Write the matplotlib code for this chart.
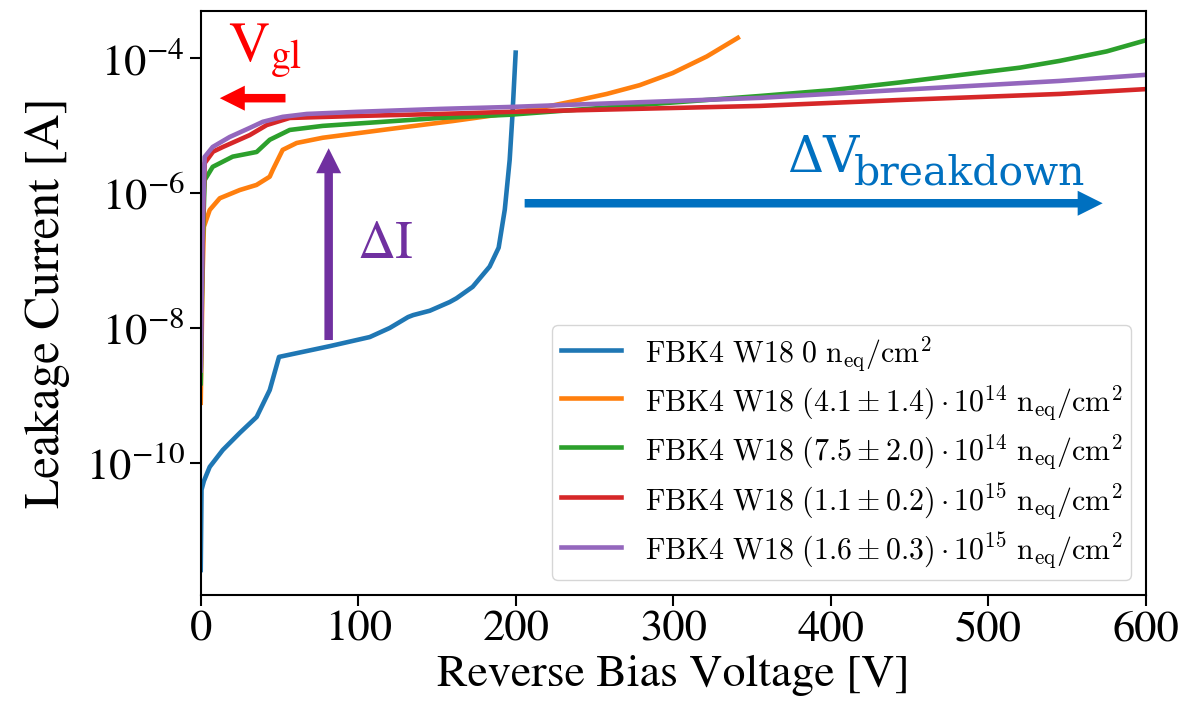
import matplotlib
matplotlib.use("Agg")
import matplotlib.pyplot as plt
from matplotlib.font_manager import FontProperties

# IV curves of FBK4 W18 sensors at different fluences
voltage_0 = [0, 0.5, 2, 5.7, 14.0, 24.8, 35.5, 43.8, 49.7, 81.9, 107.3, 120, 131.6,
             134.8, 145.4, 158, 162.3, 172.6, 183.4, 189.1, 193, 196.1, 197.8, 199.9]
current_0 = [2.57e-12, 3.98e-11, 5.37e-11, 8.7e-11, 1.55e-10, 2.78e-10, 4.79e-10, 1.20e-9,
             3.72e-9, 5.37e-9, 7.33e-9, 1.0e-8, 1.45e-8, 1.55e-8, 1.80e-8, 2.42e-8, 2.75e-8,
             4.07e-8, 8.13e-8, 1.55e-7, 5.69e-7, 3.10e-6, 1.36e-5, 1.21e-4]

voltage_41e14 = [0, 1.2, 2.0, 5.7, 12.1, 24.8, 35.4, 43.8, 45.7, 52, 60.9, 77.4, 120, 160,
                 200, 215.2, 236.1, 257.7, 278.6, 299.6, 321.2, 340.9]
current_41e14 = [7.76e-10, 6.3e-8, 3.16e-7, 5.62e-7, 8.38e-7, 1.11e-6, 1.32e-6, 1.75e-6,
                 2.20e-6, 4.37e-6, 5.53e-6, 6.61e-6, 8.91e-6, 1.17e-5, 1.58e-5, 1.82e-5,
                 2.29e-5, 2.95e-5, 3.98e-5, 6.03e-5, 1.06e-4, 2.0e-4]

voltage_75e14 = [0, 1.2, 2.5, 7.6, 20.3, 35.5, 43.8, 56.5, 77.4, 151.7, 196, 354.8, 400,
                 443.7, 481.6, 520, 545.2, 575, 599.1]
current_75e14 = [1.51e-9, 1.58e-7, 1.56e-6, 2.45e-6, 3.47e-6, 4.07e-6, 6.17e-6, 8.63e-6,
                 9.91e-6, 1.30e-5, 1.45e-5, 2.75e-5, 3.35e-5, 4.37e-5, 5.62e-5, 7.24e-5,
                 9.12e-5, 1.26e-4, 1.82e-4]

voltage_11e15 = [0, 1.2, 2.5, 7.8, 14, 31.1, 41.9, 56.5, 99, 151.7, 196, 354.8, 443.7, 545.2, 599.1]
current_11e15 = [2.51e-9, 2.51e-7, 2.78e-6, 4.11e-6, 4.82e-6, 7.24e-6, 1.02e-5, 1.30e-5,
                 1.39e-5, 1.49e-5, 1.60e-5, 1.96e-5, 2.40e-5, 2.95e-5, 3.47e-5]

voltage_16e15 = [0, 1.2, 2.5, 7.6, 18.4, 31.1, 39.4, 52, 67.3, 99, 151.7, 196, 354.8, 443.7,
                 545.2, 599.1]
current_16e15 = [2.34e-9, 3.16e-7, 3.44e-6, 4.83e-6, 6.79e-6, 9.25e-6, 1.14e-5, 1.35e-5,
                 1.49e-5, 1.60e-5, 1.77e-5, 1.89e-5, 2.58e-5, 3.39e-5, 4.60e-5, 5.65e-5]

series_labels = [
    r"$\mathrm{FBK4\ W18\ 0\ n_{eq}/cm^2}$",
    r"$\mathrm{FBK4\ W18\ (4.1 \pm 1.4) \cdot 10^{14}\ n_{eq}/cm^2}$",
    r"$\mathrm{FBK4\ W18\ (7.5 \pm 2.0) \cdot 10^{14}\ n_{eq}/cm^2}$",
    r"$\mathrm{FBK4\ W18\ (1.1 \pm 0.2) \cdot 10^{15}\ n_{eq}/cm^2}$",
    r"$\mathrm{FBK4\ W18\ (1.6 \pm 0.3) \cdot 10^{15}\ n_{eq}/cm^2}$",
]
series_colors = ["#1f77b4", "#ff7f0e", "#2ca02c", "#d62728", "#9467bd"]

y_ticks = [1e-10, 1e-8, 1e-6, 1e-4]
x_ticks = [0, 100, 200, 300, 400, 500, 600]

plt.rcParams["font.family"] = ["STIXGeneral", "DejaVu Serif"]
plt.rcParams["mathtext.fontset"] = "stix"

fig = plt.figure(figsize=(12.02, 7.18), dpi=100)
ax = fig.add_axes([0.167, 0.1713, 0.7864, 0.8134])

series = [
    (voltage_0, current_0),
    (voltage_41e14, current_41e14),
    (voltage_75e14, current_75e14),
    (voltage_11e15, current_11e15),
    (voltage_16e15, current_16e15),
]
for (v, i), lab, col in zip(series, series_labels, series_colors):
    ax.plot(v, i, color=col, lw=3.3, label=lab, solid_joinstyle="round")

ax.set_yscale("log")
ax.set_xlim(0, 600)
ax.set_ylim(10 ** -11.96, 10 ** -3.30)
ax.set_xticks(x_ticks)
ax.set_yticks(y_ticks)
ax.yaxis.set_minor_locator(matplotlib.ticker.NullLocator())
ax.tick_params(labelsize=32, length=8, width=1.5)
for sp in ax.spines.values():
    sp.set_linewidth(1.5)
ax.set_xlabel("Reverse Bias Voltage [V]", fontsize=33)
ax.set_ylabel("Leakage Current [A]", fontsize=35.5, labelpad=11)

legend_font = FontProperties(family="STIXGeneral", size=21.5, math_fontfamily="cm")
ax.legend(loc="lower right", prop=legend_font, labelspacing=0.3, handleheight=1.3,
          borderpad=0.3)

# Annotations
red = "#ff0000"
purple = "#7030a0"
blue = "#0070c0"
arrow_style = "simple,head_length=1,head_width=1,tail_width=0.34"

ax.text(17.1, 10 ** -4.07, r"$\mathrm{V}_{\mathrm{gl}}$", color=red, fontsize=41,
        ha="left", va="baseline")
ax.annotate("", xy=(12.1, 10 ** -4.593), xytext=(53.8, 10 ** -4.593),
            arrowprops=dict(arrowstyle=arrow_style, mutation_scale=18, color=red,
                            shrinkA=0, shrinkB=0, lw=0))

ax.text(99.7, 10 ** -6.963, "ΔI", color=purple, fontsize=38, ha="left", va="baseline")
ax.annotate("", xy=(81.2, 10 ** -5.335), xytext=(81.2, 10 ** -8.179),
            arrowprops=dict(arrowstyle=arrow_style, mutation_scale=18, color=purple,
                            shrinkA=0, shrinkB=0, lw=0))

ax.text(371.9, 10 ** -5.687, "ΔV", color=blue, fontsize=36, family="DejaVu Serif",
        ha="left", va="baseline")
ax.text(414.5, 10 ** -5.88, "breakdown", color=blue, fontsize=29.5, family="DejaVu Serif",
        ha="left", va="baseline")
ax.annotate("", xy=(572.5, 10 ** -6.151), xytext=(205.6, 10 ** -6.151),
            arrowprops=dict(arrowstyle=arrow_style, mutation_scale=18, color=blue,
                            shrinkA=0, shrinkB=0, lw=0))

fig.savefig("out.png", dpi=100)
